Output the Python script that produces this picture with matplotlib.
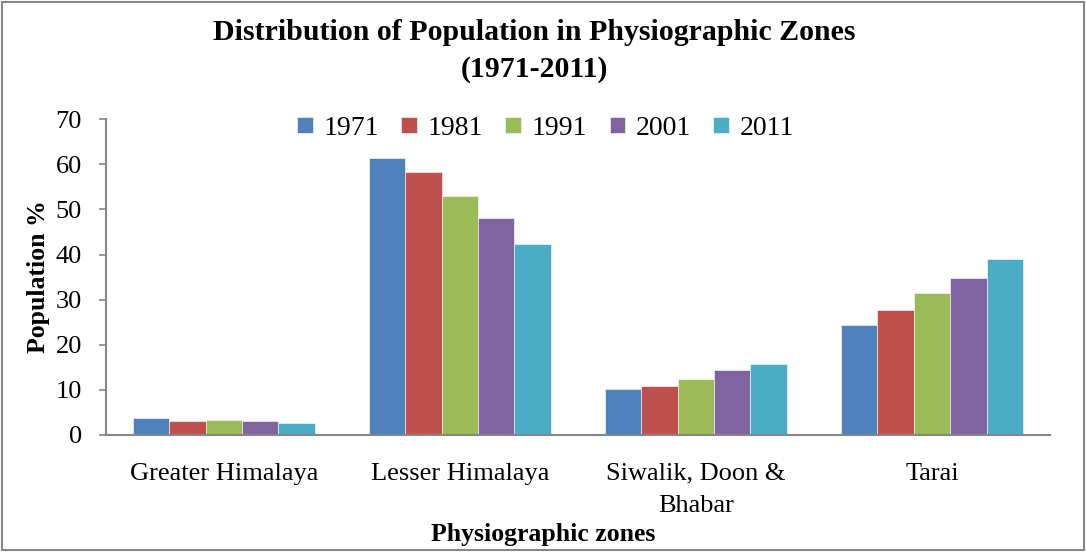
import matplotlib.pyplot as plt
import numpy as np
from matplotlib.patches import Rectangle

zones = ["Greater Himalaya", "Lesser Himalaya", "Siwalik, Doon &\nBhabar", "Tarai"]
years = ["1971", "1981", "1991", "2001", "2011"]
pop_1971 = [3.8, 61.5, 10.3, 24.3]
pop_1981 = [3.1, 58.4, 10.8, 27.7]
pop_1991 = [3.3, 52.9, 12.4, 31.4]
pop_2001 = [3.1, 48.0, 14.4, 34.7]
pop_2011 = [2.6, 42.4, 15.8, 39.0]
colors = ["#4F81BD", "#C0504D", "#9BBB59", "#8064A2", "#4BACC6"]

plt.rcParams["font.family"] = ["Liberation Serif", "DejaVu Serif"]

fig = plt.figure(figsize=(10.86, 5.52), dpi=100)
ax = fig.add_axes([0.0973, 0.212, 0.8696, 0.572])

series = [pop_1971, pop_1981, pop_1991, pop_2001, pop_2011]
x = np.arange(len(zones))
w = 0.154
for i, (vals, year) in enumerate(zip(series, years)):
    ax.bar(x + (i - 2) * w, vals, w, color=colors[i], label=year,
           edgecolor="white", linewidth=0.4)

ax.set_xlim(-0.5, len(zones) - 0.5)
ax.set_ylim(0, 70)
ax.set_yticks(range(0, 71, 10))
ax.set_xticks(x)
ax.set_xticklabels(zones, fontsize=19, linespacing=1.6)
ax.tick_params(axis="x", length=0, pad=20)
ax.tick_params(axis="y", length=5, width=1.2, color="#868686", labelsize=19, pad=12)

for s in ["top", "right"]:
    ax.spines[s].set_visible(False)
for s in ["left", "bottom"]:
    ax.spines[s].set_color("#868686")
    ax.spines[s].set_linewidth(1.5)

ax.set_ylabel("Population %", fontsize=18.5, fontweight="bold", labelpad=4)
fig.text(0.5, 0.032, "Physiographic zones", ha="center", va="center",
         fontsize=18.5, fontweight="bold")
fig.text(0.492, 0.908, "Distribution of Population in Physiographic Zones\n(1971-2011)",
         ha="center", va="center", fontsize=21.5, fontweight="bold", linespacing=1.45)

ax.legend(loc="upper center", bbox_to_anchor=(0.466, 1.09), ncol=5, frameon=False,
          fontsize=20, handlelength=0.55, handleheight=0.55, handletextpad=0.4,
          columnspacing=0.8)

fig.patches.append(Rectangle((0.002, 0.003), 0.996, 0.994, transform=fig.transFigure,
                             fill=False, edgecolor="#868686", linewidth=1.5))

fig.savefig("out.png", dpi=100)
